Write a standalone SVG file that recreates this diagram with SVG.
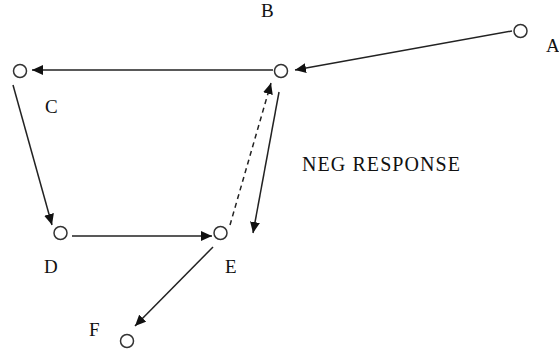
<svg xmlns="http://www.w3.org/2000/svg" width="559" height="350" viewBox="0 0 559 350">
<style>
.node circle{fill:#fff;stroke:#333;stroke-width:1.5}
.lbl{font-family:"Liberation Serif","Times New Roman",serif;font-size:19px;fill:#111}
.edge{stroke:#222;stroke-width:1.5;fill:none;marker-end:url(#ah)}
.dash{stroke-dasharray:5 4}
</style>
<defs>
<marker id="ah" markerUnits="userSpaceOnUse" markerWidth="12" markerHeight="10" refX="11" refY="5" orient="auto">
<path d="M0,0 L11,5 L0,10 Z" fill="#111"/>
</marker>
</defs>
<rect width="559" height="350" fill="#fff"/>
<g id="connectors">
<line class="edge" x1="512" y1="31" x2="295" y2="70"/>
<line class="edge" x1="273" y1="70" x2="32" y2="70"/>
<line class="edge" x1="13" y1="85" x2="52" y2="225"/>
<line class="edge" x1="72" y1="236" x2="212" y2="236"/>
<line class="edge dash" x1="230" y1="225" x2="271" y2="83"/>
<line class="edge" x1="279" y1="92" x2="253" y2="233"/>
<line class="edge" x1="213" y1="247" x2="135" y2="326"/>
</g>
<g id="A" class="node"><circle cx="520.5" cy="31" r="6.5"/><text class="lbl" x="546" y="52">A</text></g>
<g id="B" class="node"><circle cx="281" cy="71" r="6.5"/><text class="lbl" x="261" y="17">B</text></g>
<g id="C" class="node"><circle cx="20" cy="71" r="6.5"/><text class="lbl" x="45" y="113">C</text></g>
<g id="D" class="node"><circle cx="60.5" cy="233" r="6.5"/><text class="lbl" x="44" y="273">D</text></g>
<g id="E" class="node"><circle cx="220.5" cy="233" r="6.5"/><text class="lbl" x="225" y="273">E</text></g>
<g id="F" class="node"><circle cx="127" cy="341" r="6.5"/><text class="lbl" x="89" y="336">F</text></g>
<g id="note"><text class="lbl" x="302" y="171" style="font-size:20px" textLength="158" lengthAdjust="spacing">NEG RESPONSE</text></g>
</svg>
